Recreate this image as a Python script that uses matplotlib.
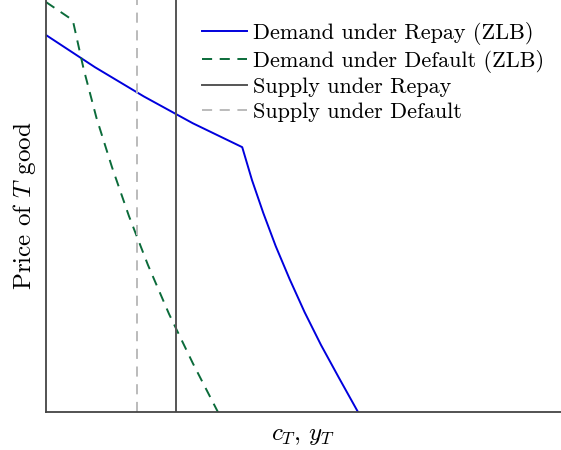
import numpy as np
import matplotlib
matplotlib.use("Agg")
import matplotlib.pyplot as plt

plt.rcParams["font.family"] = "serif"
plt.rcParams["font.serif"] = ["cmr10"]
plt.rcParams["mathtext.fontset"] = "cm"
plt.rcParams["axes.formatter.use_mathtext"] = True

# Demand under repay (ZLB)
repay_x = [0.0, 0.95, 1.90, 2.85, 3.81, 4.00, 4.22, 4.46, 4.73, 5.02, 5.34,
           5.69, 6.06]
repay_y = [9.15, 8.37, 7.66, 7.01, 6.43, 5.63, 4.83, 4.03, 3.23, 2.43, 1.63,
           0.83, 0.0]

# Demand under default (ZLB)
default_x = [0.0, 0.52, 0.73, 0.98, 1.28, 1.61, 1.98, 2.39, 2.85, 3.34]
default_y = [9.95, 9.51, 8.33, 7.14, 5.95, 4.76, 3.57, 2.38, 1.19, 0.0]

# Supply levels (vertical lines)
supply_repay = 2.52
supply_default = 1.77

dash = (0, (5.2, 3.9))

fig = plt.figure(figsize=(5.61, 4.5), dpi=100)
ax = fig.add_axes([0.082, 0.084, 0.918, 0.916])

ax.plot(repay_x, repay_y, color="#0000dd", lw=1.4, label="Demand under Repay (ZLB)")
ax.plot(default_x, default_y, color="#0b6b3a", lw=1.4, ls=dash,
        label="Demand under Default (ZLB)")
ax.axvline(supply_repay, color="#555555", lw=1.4, label="Supply under Repay")
ax.axvline(supply_default, color="#bbbbbb", lw=1.4, ls=dash,
           label="Supply under Default")

ax.set_xlim(0, 10)
ax.set_ylim(0, 10)
ax.set_xticks([])
ax.set_yticks([])
for s in ["top", "right"]:
    ax.spines[s].set_visible(False)
for s in ["left", "bottom"]:
    ax.spines[s].set_color("#444444")
    ax.spines[s].set_linewidth(1.3)

ax.set_xlabel(r"$c_T,\,y_T$", fontsize=18, labelpad=9)
ax.set_ylabel(r"Price of $T$ good", fontsize=18, labelpad=6)

ax.legend(loc="upper right", frameon=False, fontsize=16, handlelength=2.0,
          handletextpad=0.27, labelspacing=0.22, borderaxespad=0.3,
          bbox_to_anchor=(0.997, 0.985))

fig.savefig("out.png", dpi=100)
